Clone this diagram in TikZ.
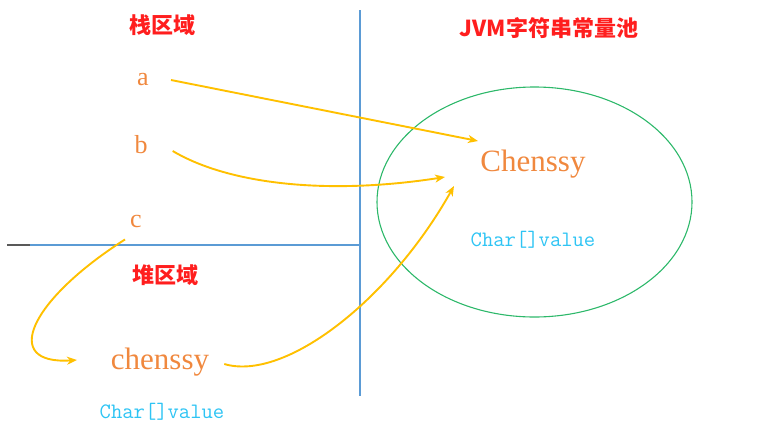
\documentclass[tikz,border=0pt]{standalone}
\usepackage{fontspec}
\setmainfont{Liberation Serif}
\newfontfamily\cjk{Noto Sans CJK SC}
\usetikzlibrary{arrows.meta}
\definecolor{hdred}{HTML}{FF1E1E}
\definecolor{txorange}{HTML}{F0883E}
\definecolor{txblue}{HTML}{2EC4F4}
\definecolor{arrgold}{HTML}{FFC000}
\definecolor{ellgreen}{HTML}{2DB86A}
\definecolor{linblue}{HTML}{5B9BD5}
\tikzset{
  header/.style={text=hdred,font=\cjk\fontsize{22}{24}\selectfont\bfseries,inner sep=0pt},
  var/.style={text=txorange,font=\fontsize{26}{28}\selectfont,inner sep=0pt},
  strtxt/.style={text=txorange,font=\fontsize{31}{33}\selectfont,inner sep=0pt},
  arrtxt/.style={text=txblue,font=\ttfamily\fontsize{22}{24}\selectfont,inner sep=0pt},
  arr/.style={draw=arrgold,line width=1.9pt,-{Stealth[length=10pt,width=8pt,inset=3pt]}},
  divider/.style={draw=linblue,line width=1.4pt}
}
\begin{document}
\begin{tikzpicture}[x=1pt,y=-1pt]
\useasboundingbox (0,0) rectangle (783,437);
% dividers
\draw[divider] (360,10) -- (360,396);
\draw[divider] (30,245) -- (360,245);
\draw[draw=gray!70!black,line width=1.4pt] (7,245) -- (30,245);
% pool ellipse
\draw[draw=ellgreen,line width=1.1pt] (534.5,202) ellipse [x radius=157.5,y radius=115];
% headers
\node[header] (stack) at (162,25) {栈区域};
\node[header] (heap) at (165,275) {堆区域};
\node[header] (pool) at (549,28) {JVM字符串常量池};
% variables
\node[var] (a) at (143,80) {a};
\node[var] (b) at (141,145) {b};
\node[var] (c) at (136,221) {c};
% strings
\node[strtxt] (hstr) at (160,362) {chenssy};
\node[arrtxt] (harr) at (162,412) {Char[]value};
\node[strtxt] (pstr) at (533,164) {Chenssy};
\node[arrtxt] (parr) at (533,240) {Char[]value};
% arrow end points
\coordinate (ta) at (478,141);
\coordinate (tb) at (445,177);
\coordinate (tc) at (454,186);
\coordinate (th) at (77,360);
% arrows
\draw[arr] ([xshift=22pt]a.east) -- (ta);
\draw[arr] ([xshift=25pt,yshift=-6pt]b.east) .. controls (230,185) and (330,195) .. (tb);
\draw[arr] ([xshift=-11pt,yshift=-12pt]c.south) .. controls (30,300) and (0,365) .. (th);
\draw[arr] ([xshift=15pt,yshift=-2pt]hstr.east) .. controls (285,382) and (390,300) .. (tc);
\end{tikzpicture}
\end{document}
